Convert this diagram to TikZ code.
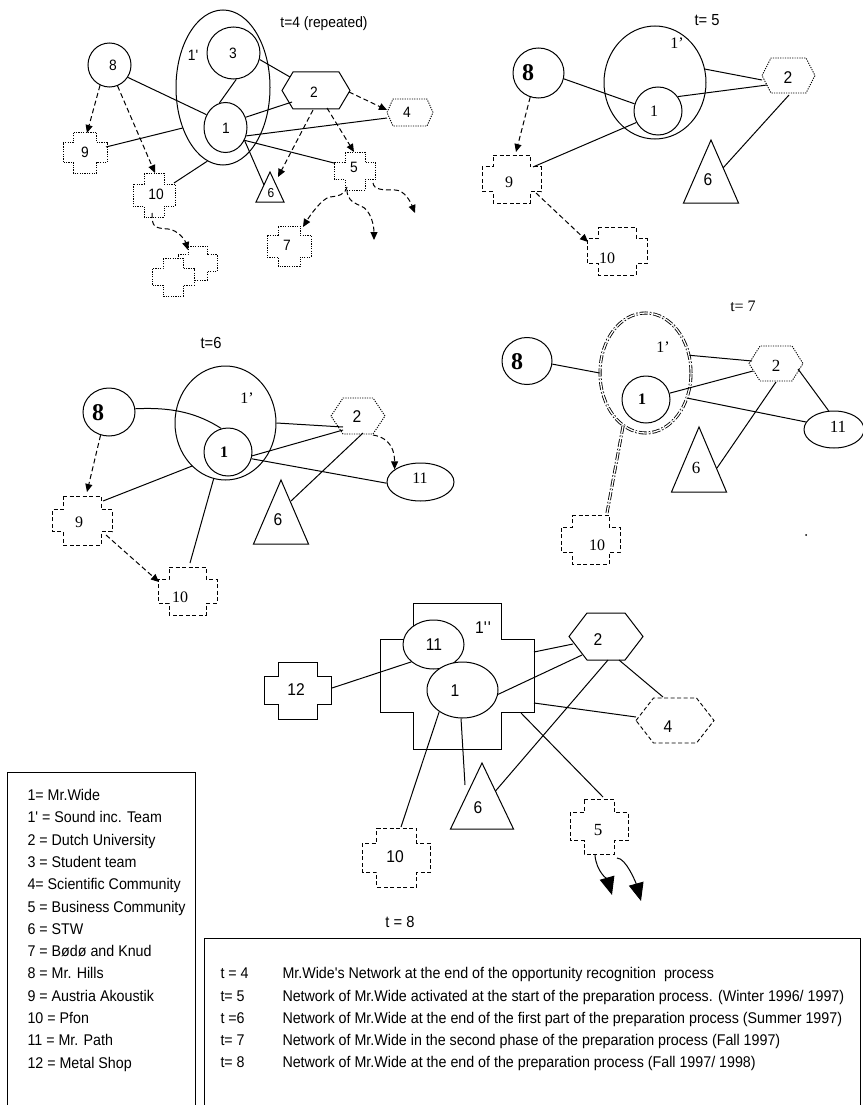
\documentclass[tikz,border=0pt]{standalone}
\usepackage{fontspec}
\setmainfont{Liberation Serif}
\newfontfamily\cnd[FakeStretch=0.92]{Liberation Sans}
\usetikzlibrary{shapes.geometric,arrows.meta}
% hexagon: name, cx, cy, half width (points), half top edge, half height, style
\newcommand\hexa[7]{%
  \draw[#7] (#2-#4,#3) -- (#2-#5,#3-#6) -- (#2+#5,#3-#6) -- (#2+#4,#3) -- (#2+#5,#3+#6) -- (#2-#5,#3+#6) -- cycle;
  \coordinate (#1) at (#2,#3);}
% cross: name, cx, cy, half width of vertical bar, half width of horizontal bar, half height of vertical bar, half height of horizontal bar, style
\newcommand\crs[8]{%
  \draw[#8] (#2-#4,#3-#6) -- (#2+#4,#3-#6) -- (#2+#4,#3-#7) -- (#2+#5,#3-#7) -- (#2+#5,#3+#7) -- (#2+#4,#3+#7) -- (#2+#4,#3+#6) -- (#2-#4,#3+#6) -- (#2-#4,#3+#7) -- (#2-#5,#3+#7) -- (#2-#5,#3-#7) -- (#2-#4,#3-#7) -- cycle;
  \coordinate (#1) at (#2,#3);}
% triangle: name, apex x, apex y, half base, base y, centre y
\newcommand\tri[6]{%
  \draw (#2,#3) -- (#2+#4,#5) -- (#2-#4,#5) -- cycle;
  \coordinate (#1) at (#2,#6);}
\begin{document}
\begin{tikzpicture}[x=1pt,y=-1pt,line width=1pt,
  ell/.style={ellipse,draw,inner sep=0pt},
  dsh/.style={dash pattern=on 4pt off 2.5pt,line width=0.9pt},
  dtt/.style={dash pattern=on 1.2pt off 1.2pt,line width=0.9pt},
  arr/.style={dash pattern=on 5pt off 3pt,-{Triangle[length=8pt,width=7pt]}},
  bigarr/.style={-{Triangle[length=18pt,width=15pt]}},
  dd/.style={double,double distance=1.3pt,line width=0.85pt,dash pattern=on 8pt off 2pt on 1.5pt off 2pt},
  sl/.style={font=\cnd\fontsize{15}{18}\selectfont,inner sep=0pt},
  ss/.style={font=\cnd\fontsize{17}{20}\selectfont,inner sep=0pt},
  rs/.style={font=\fontsize{16}{19}\selectfont,inner sep=0pt},
  rb/.style={font=\bfseries\fontsize{24}{28}\selectfont,inner sep=0pt},
  lg/.style={font=\cnd\fontsize{15.5}{18}\selectfont,inner sep=0pt,anchor=base west}]
\useasboundingbox (0,0) rectangle (862,1105);

%================ t=4
\node[sl] (T4) at (324,24) {t=4 (repeated)};
\node[ell,minimum width=94pt,minimum height=155pt] (A1p) at (223,87.5) {};
\node[ell,minimum width=53pt,minimum height=52pt] (a3) at (233.5,53) {};
\node[ell,minimum width=43pt,minimum height=50pt] (a1) at (225.5,127.5) {};
\node[ell,minimum width=43pt,minimum height=44pt] (a8) at (109.5,65) {};
\hexa{a2}{316}{90.5}{34}{23}{18.5}{}
\hexa{a4}{410}{112.5}{23}{17}{13.5}{dtt}
\crs{a9}{85}{152.5}{11.5}{22}{20.5}{10}{dtt}
\crs{a10}{154}{195}{10}{21}{22}{11}{dtt}
\crs{a5}{355}{171}{10}{20.5}{19}{8.5}{dtt}
\crs{a7}{289}{246}{11}{22}{20}{11}{dtt}
\crs{a12b}{197.5}{263}{9.5}{19.5}{17}{8.3}{dtt}
\crs{a12f}{173}{277}{10}{21}{19}{8.3}{dtt,fill=white}
\tri{a6}{270}{172}{14}{202}{190}
\node[sl] (la1p) at (193,55) {1'};
\node[sl] (la3) at (233,53) {3};
\node[sl] (la1) at (226,128) {1};
\node[sl] (la8) at (113,65) {8};
\node[sl] (la2) at (314,92) {2};
\node[sl] (la4) at (407,112) {4};
\node[sl] (la9) at (85,152) {9};
\node[sl] (la10) at (156,194) {10};
\node[sl] (la5) at (354,167) {5};
\node[font=\cnd\fontsize{13}{15}\selectfont,inner sep=0pt] (la6) at (271,193) {6};
\node[sl] (la7) at (287,245) {7};
\coordinate (a5d1) at (374,240);
\coordinate (a5d2) at (415,213);
\draw (a8.-34) -- (a1.146);
\draw (a3.-84) -- (a1.104);
\draw (a3.-14) -- ([shift={(-26,-13.5)}]a2.center);
\draw (a1.27) -- ([shift={(-24,11.5)}]a2.center);
\draw ([shift={(21,-5.5)}]a9.center) -- (A1p.225);
\draw ([shift={(20,-12)}]a10.center) -- (A1p.258);
\draw (a1.-22) -- ([shift={(-23,5.5)}]a4.center);
\draw (a1.-34) -- ([shift={(-21,-8)}]a5.center);
\draw (a1.-34) -- ([shift={(-6,-5)}]a6.center);
\draw[arr] (a8.-115) -- ([shift={(2,-19.5)}]a9.center);
\draw[arr] (a8.-69) -- ([shift={(1,-22)}]a10.center);
\draw[arr] ([shift={(33,1.5)}]a2.center) -- ([shift={(-23,-2.5)}]a4.center);
\draw[arr] ([shift={(-3,19.5)}]a2.center) -- ([shift={(8,-13)}]a6.center);
\draw[arr] ([shift={(11,17.5)}]a2.center) -- ([shift={(-1,-19)}]a5.center);
\draw[arr] ([shift={(-8,16)}]a5.center) .. controls +(-2,8) and +(8,-1) .. ++(-17,10) .. controls +(-8,1) and +(6,-10) .. ([shift={(14,-19)}]a7.center);
\draw[arr] ([shift={(-8,19)}]a5.center) .. controls +(0,8) and +(-10,-4) .. ++(14,16) .. controls +(10,4) and +(0,-14) .. (a5d1);
\draw[arr] ([shift={(18,12)}]a5.center) .. controls +(1,7) and +(-12,0) .. ++(22,7) .. controls +(10,0) and +(-4,-10) .. (a5d2);
\draw[arr] ([shift={(-2,18)}]a10.center) .. controls +(0,14) and +(-14,-1) .. ++(16,16) .. controls +(10,1) and +(-3,-10) .. ([shift={(-9.5,-13)}]a12b.center);

%================ t=5
\node[sl,font=\cnd\fontsize{16}{19}\selectfont] (T5) at (707,20) {t= 5};
\node[ell,minimum width=102pt,minimum height=113pt] (B1p) at (655,82.5) {};
\node[ell,minimum width=48pt,minimum height=48pt] (b1) at (658,111) {};
\node[ell,minimum width=51pt,minimum height=50pt] (b8) at (538.5,73) {};
\hexa{b2}{788.5}{75.5}{26.5}{17.5}{17.5}{dtt}
\tri{b6}{711}{140}{27.5}{203}{180}
\crs{b9}{511.5}{179}{18.5}{29.5}{24}{12.5}{dsh}
\crs{b10}{617}{251}{19}{30}{24}{12.5}{dsh}
\node[rs] (lb1p) at (677,43) {1'};
\node[rs] (lb1) at (654,111) {1};
\node[rb] (lb8) at (528,73) {8};
\node[ss] (lb2) at (788,78) {2};
\node[ss] (lb6) at (708,180) {6};
\node[rs] (lb9) at (509,182) {9};
\node[rs] (lb10) at (607,258) {10};
\draw (b8.-13) -- (b1.163);
\draw (B1p.15) -- ([shift={(-26.5,4.5)}]b2.center);
\draw (b1.36) -- ([shift={(-21.5,9.5)}]b2.center);
\draw ([shift={(21.5,-12)}]b9.center) -- (b1.208);
\draw ([shift={(0.5,19.5)}]b2.center) -- ([shift={(12,-12)}]b6.center);
\draw[arr] (b8.-109) -- ([shift={(4.5,-27)}]b9.center);
\draw[arr] ([shift={(24.5,14)}]b9.center) -- ([shift={(-29,-9)}]b10.center);

%================ t=6
\node[sl,font=\cnd\fontsize{16}{19}\selectfont] (T6) at (211,343) {t=6};
\node[ell,minimum width=101pt,minimum height=114pt] (C1p) at (225.5,423) {};
\node[ell,minimum width=48pt,minimum height=48pt] (c1) at (228,452) {};
\node[ell,minimum width=52pt,minimum height=48pt] (c8) at (109,412) {};
\node[ell,minimum width=67pt,minimum height=38pt] (c11) at (420.5,482) {};
\hexa{c2}{358}{416}{27}{15}{18}{dtt}
\tri{c6}{281}{480}{27.5}{544}{520}
\crs{c9}{82}{520.5}{19}{30}{24.5}{11}{dsh}
\crs{c10}{187.5}{591}{18.5}{29.5}{24}{12}{dsh}
\node[rs] (lc1p) at (247,398) {1'};
\node[rs,font=\bfseries\fontsize{16}{19}\selectfont] (lc1) at (224,452) {1};
\node[rb] (lc8) at (98,413) {8};
\node[ss] (lc2) at (357,417) {2};
\node[rs] (lc11) at (420,478) {11};
\node[ss] (lc6) at (278,520) {6};
\node[rs] (lc9) at (79,522) {9};
\node[rs] (lc10) at (180,597) {10};
\draw (c8.7) .. controls +(40,-2) and +(-22,-14) .. (c1.106);
\draw (C1p.0) -- ([shift={(-15,11)}]c2.center);
\draw (c1.-9) -- ([shift={(-15,14)}]c2.center);
\draw (c1.-16) -- (c11.182);
\draw ([shift={(21,-19.5)}]c9.center) -- (C1p.232);
\draw ([shift={(2.5,-28)}]c10.center) -- (C1p.258);
\draw ([shift={(5,17)}]c2.center) -- ([shift={(10,-19)}]c6.center);
\draw[arr] ([shift={(15,19)}]c2.center) .. controls +(18,3) and +(0,-18) .. (c11.154);
\draw[arr] (c8.-110) -- ([shift={(5,-28.5)}]c9.center);
\draw[arr] ([shift={(24,14.5)}]c9.center) -- ([shift={(-28.5,-9)}]c10.center);

%================ t=7
\node[rs] (T7) at (743,306) {t= 7};
\node[ellipse,draw,dd,inner sep=0pt,minimum width=91pt,minimum height=120pt] (D1p) at (645.5,373) {};
\node[ell,minimum width=48pt,minimum height=47pt] (d1) at (646,399.5) {};
\node[ell,minimum width=50pt,minimum height=47pt] (d8) at (527,361) {};
\node[ell,minimum width=60pt,minimum height=37pt] (d11) at (834,429.5) {};
\hexa{d2}{776}{363.5}{27}{16}{17.5}{dtt}
\tri{d6}{699}{427}{27.5}{492}{467}
\crs{d10}{590.5}{539.5}{18.5}{29.5}{24.5}{12.5}{dsh}
\node[circle,fill,inner sep=0pt,minimum size=2pt] (dot7) at (806,535) {};
\node[rs] (ld1p) at (663,347) {1'};
\node[rs,font=\bfseries\fontsize{16}{19}\selectfont] (ld1) at (642,399) {1};
\node[rb] (ld8) at (517,362) {8};
\node[rs,font=\fontsize{17}{20}\selectfont] (ld2) at (776,366) {2};
\node[rs,font=\fontsize{17}{20}\selectfont] (ld11) at (838,427) {11};
\node[rs,font=\fontsize{17}{20}\selectfont] (ld6) at (696,468) {6};
\node[rs] (ld10) at (597,545) {10};
\draw (d8.-7) -- (D1p.180);
\draw (D1p.22) -- ([shift={(-24,-2.5)}]d2.center);
\draw (d1.15) -- ([shift={(-23,7.5)}]d2.center);
\draw (D1p.-31) -- (d11.165);
\draw ([shift={(22,5.5)}]d2.center) -- (d11.106);
\draw ([shift={(0,18.5)}]d2.center) -- ([shift={(18,1)}]d6.center);
\draw[dd] (D1p.-113) -- ([shift={(16.5,-26.5)}]d10.center);

%================ t=8
\node[ss,font=\cnd\fontsize{16}{19}\selectfont] (T8) at (400,922) {t = 8};
\crs{E1pp}{457}{676}{44}{77}{73}{36.5}{}
\node[ell,fill=white,minimum width=61pt,minimum height=49pt] (e11) at (433.5,644.5) {};
\node[ell,fill=white,minimum width=71pt,minimum height=56pt] (e1) at (462.5,690) {};
\crs{e12}{297.5}{690.5}{19.5}{33.5}{28.5}{14}{}
\hexa{e2}{606}{636.5}{37}{19}{23.5}{}
\hexa{e4}{675}{720.5}{39}{21.5}{22.5}{dsh}
\tri{e6}{482}{763}{31.5}{829}{805}
\crs{e5}{599}{826.5}{15}{29}{27.5}{14}{dsh}
\crs{e10}{396.5}{857.5}{20}{34}{29.5}{14.5}{dsh}
\node[ss] (le1pp) at (483,628) {1'\kern1pt'};
\node[ss] (le11) at (434,645) {11};
\node[ss] (le1) at (455,691) {1};
\node[ss] (le12) at (296,690) {12};
\node[ss] (le2) at (598,640) {2};
\node[ss] (le4) at (668,727) {4};
\node[ss] (le6) at (478,808) {6};
\node[rs,font=\fontsize{17}{20}\selectfont] (le5) at (598,830) {5};
\node[ss] (le10) at (395,857) {10};
\coordinate (e5d1) at (612,895);
\coordinate (e5d2) at (641,901);
\draw ([shift={(34.5,-2.5)}]e12.center) -- (e11.218);
\draw ([shift={(77,-24)}]E1pp.center) -- ([shift={(-33,7.5)}]e2.center);
\draw (e1.-7) -- ([shift={(-24,18.5)}]e2.center);
\draw ([shift={(13,23.5)}]e2.center) -- ([shift={(-12,-23.5)}]e4.center);
\draw ([shift={(77,27)}]E1pp.center) -- ([shift={(-39,-3.5)}]e4.center);
\draw ([shift={(64,37)}]E1pp.center) -- ([shift={(4,-29.5)}]e5.center);
\draw ([shift={(2,23.5)}]e2.center) -- ([shift={(13.5,-14)}]e6.center);
\draw (e1.-93) -- ([shift={(-17,-20)}]e6.center);
\draw (e1.-137) -- ([shift={(4.5,-30.5)}]e10.center);
\draw[bigarr] ([shift={(-4,28.5)}]e5.center) .. controls +(1,16) and +(-4,-14) .. (e5d1);
\draw[bigarr] ([shift={(18,31.5)}]e5.center) .. controls +(9,0) and +(-5,-18) .. (e5d2);

%================ legend
\draw (7,772) rectangle (195,1115);
\node[lg] (L1) at (27,800.5) {1= Mr.Wide};
\node[lg] (L2) at (27,822.8) {1' = Sound inc. Team};
\node[lg] (L3) at (27,845.1) {2 = Dutch University};
\node[lg] (L4) at (27,867.4) {3 = Student team};
\node[lg] (L5) at (27,889.7) {4= Scientific Community};
\node[lg] (L6) at (27,912.0) {5 = Business Community};
\node[lg] (L7) at (27,934.3) {6 = STW};
\node[lg] (L8) at (27,956.6) {7 = Bødø and Knud};
\node[lg] (L9) at (27,978.9) {8 = Mr. Hills};
\node[lg] (L10) at (27,1001.2) {9 = Austria Akoustik};
\node[lg] (L11) at (27,1023.5) {10 = Pfon};
\node[lg] (L12) at (27,1045.8) {11 = Mr. Path};
\node[lg] (L13) at (27,1068.1) {12 = Metal Shop};

%================ description box
\draw (204,938) rectangle (860,1115);
\node[lg] (D1) at (220,978.5) {t = 4};
\node[lg] (D2) at (220,1001.5) {t= 5};
\node[lg] (D3) at (220,1023.5) {t =6};
\node[lg] (D4) at (220,1045.5) {t= 7};
\node[lg] (D5) at (220,1067.5) {t= 8};
\node[lg] (E1) at (282,978.5) {Mr.Wide's Network at the end of the opportunity recognition \ process};
\node[lg] (E2) at (282,1001.5) {Network of Mr.Wide activated at the start of the preparation process. (Winter 1996/ 1997)};
\node[lg] (E3) at (282,1023.5) {Network of Mr.Wide at the end of the first part of the preparation process (Summer 1997)};
\node[lg] (E4) at (282,1045.5) {Network of Mr.Wide in the second phase of the preparation process (Fall 1997)};
\node[lg] (E5) at (282,1067.5) {Network of Mr.Wide at the end of the preparation process (Fall 1997/ 1998)};
\end{tikzpicture}
\end{document}
